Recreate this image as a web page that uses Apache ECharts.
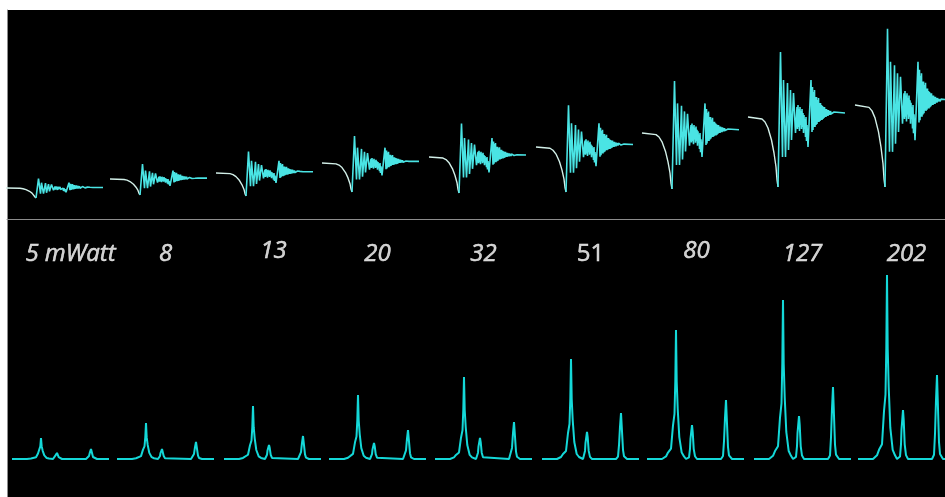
<!DOCTYPE html>
<html>
<head>
<meta charset="utf-8">
<script src="https://cdn.jsdelivr.net/npm/echarts@6/dist/echarts.min.js"></script>
<style>
  html, body { margin: 0; padding: 0; background: #fff; }
  #chart { width: 945px; height: 497px; }
</style>
</head>
<body>
<div id="chart"></div>
<script>
var powers = ["5 mWatt", "8", "13", "20", "32", "51", "80", "127", "202"];

// top panel: free induction decays, one per power level
var fidBase = [31, 40, 46, 56, 62, 72, 86, 102, 114];
var fidDepth = [10, 16, 23, 29, 36, 45, 56, 70, 82];
var fidAt = [29, 133, 239, 345, 452, 559, 665, 771, 878];

var fidRefDepth = 70;
var fidTime = [
  -30, -16, -13, -10, -6.5, -4, -2, -1, 0,
  2.5, 4.5, 5.5, 7.5, 9.5, 10.5, 12.5, 13.5, 15.5, 17.5,
  19, 19.5, 20, 20.5, 21, 21.5, 22, 22.5, 23, 23.5, 24, 24.5, 25, 25.5,
  26, 26.5, 27, 27.5, 28, 28.5, 29, 30,
  33, 34, 34.5, 35, 35.5, 36, 36.5, 37, 37.5, 38, 38.5, 39, 39.5, 40,
  40.5, 41, 41.5, 42, 42.5, 43, 43.5, 44, 44.5, 45, 45.5, 46, 46.5, 47,
  47.5, 48, 48.5, 49, 49.5, 50, 50.5, 51, 51.5, 52, 52.5, 53, 54, 55,
  56, 57, 58, 67
];
var fidSignal = [
  0, -2, -5, -11, -23, -36, -50, -63, -70,
  65, -40, 37, -40, 34, -33, 27, -23, 24, -16,
  10, -12, 12, -10, 8, -14, 10, -8, 6, -12, 8, -10, 4, -16,
  2, -12, -2, -20, 0, -24, -8, -30,
  37, -15, 30, -13, 25, -10, 27, -10, 20, -8, 20, -7, 17, -5,
  19, -5, 14, -4, 14, -3, 12, -3, 11, -2, 10, -1, 10, 0,
  8, 0, 8, 1, 7, 1, 7, 2, 6, 2, 6, 3, 5, 3,
  5, 4, 4.5, 4
];

// bottom panel: spectra
var specStart = [5, 110, 217, 322, 428, 535, 640, 747, 851];
var specWidth = 97;
var specBase = 38;
var peakShift = [29, 45, 79];
var mainPeak = [21, 36, 53, 64, 82, 100, 129, 159, 184];
var midPeak = [6, 10, 14, 16, 21, 27, 34, 43, 49];
var farPeak = [10, 17, 23, 29, 37, 46, 59, 72, 84];

// line shapes (offset, fraction of peak height)
var mainShape = [[-14, 0], [-10, 0.02], [-8, 0.05], [-5, 0.08], [-3, 0.26], [-1.5, 0.35],
  [-0.7, 0.6], [0, 1], [0.7, 0.6], [1.7, 0.39], [3.3, 0.17], [5.7, 0.05], [8, 0.02], [10, 0]];
var midShape = [[-4, 0], [-3, 0.05], [-2, 0.3], [-1.5, 0.6], [0, 1], [0.7, 0.8],
  [1.7, 0.3], [3, 0.08], [5, 0]];
var farShape = [[-5, 0], [-3, 0.05], [-2, 0.3], [-1, 0.7], [0, 1], [1, 0.6],
  [2, 0.2], [3, 0.06], [6, 0]];

var series = [];

powers.forEach(function (p, i) {
  var lead = [];
  var signal = [];
  var k = fidDepth[i] / fidRefDepth;
  fidTime.forEach(function (t, j) {
    var pt = [fidAt[i] + t, fidBase[i] + fidSignal[j] * k];
    if (t <= 0) lead.push(pt);
    if (t >= 0) signal.push(pt);
  });
  series.push({
    type: "line",
    xAxisIndex: 0,
    yAxisIndex: 0,
    data: lead,
    symbol: "none",
    silent: true,
    lineStyle: { color: "#d2efe8", width: 1.4 },
  });
  series.push({
    type: "line",
    xAxisIndex: 0,
    yAxisIndex: 0,
    data: signal,
    symbol: "none",
    silent: true,
    lineStyle: { color: "#4ae4e4", width: 1.6 },
  });

  var spec = [[specStart[i], specBase]];
  var peaks = [
    [peakShift[0], mainPeak[i], mainShape],
    [peakShift[1], midPeak[i], midShape],
    [peakShift[2], farPeak[i], farShape],
  ];
  peaks.forEach(function (pk) {
    pk[2].forEach(function (s) {
      spec.push([specStart[i] + pk[0] + s[0], specBase + pk[1] * s[1]]);
    });
  });
  spec.push([specStart[i] + specWidth, specBase]);
  series.push({
    type: "line",
    xAxisIndex: 1,
    yAxisIndex: 1,
    data: spec,
    symbol: "none",
    silent: true,
    lineStyle: { color: "#14d8d8", width: 2 },
  });
});

// power labels between the panels
var labelLevel = 243;
series.push({
  type: "scatter",
  xAxisIndex: 1,
  yAxisIndex: 1,
  symbolSize: 0,
  silent: true,
  data: powers.map(function (p, i) {
    var item = { name: p, value: [specStart[i] + specWidth / 2, labelLevel] };
    if (i === 0) item.label = { offset: [10, 0] };
    if (p === "13" || p === "80") item.label = { offset: [1, -3] };
    if (p === "51") item.label = { fontStyle: "normal" };
    return item;
  }),
  label: {
    show: true,
    position: "inside",
    formatter: "{b}",
    color: "#ffffff",
    fontSize: 24,
    fontStyle: "italic",
    fontFamily: "Open Sans",
    textBorderColor: "#ffffff",
    textBorderWidth: 0.5,
  },
});

var frame = { show: true, lineStyle: { color: "#8c8c8c", width: 1 } };

var options = {
  backgroundColor: "#fff",
  animation: false,
  grid: [
    {
      left: 7,
      right: 0,
      top: 10,
      height: 209,
      show: true,
      backgroundColor: "#000",
      borderWidth: 0,
    },
    {
      left: 7,
      right: 0,
      top: 219,
      height: 278,
      show: true,
      backgroundColor: "#000",
      borderWidth: 0,
    },
  ],
  xAxis: [
    {
      type: "value",
      gridIndex: 0,
      min: 0,
      max: 938,
      position: "top",
      axisLine: frame,
      axisTick: { show: false },
      axisLabel: { show: false },
      splitLine: { show: false },
    },
    {
      type: "value",
      gridIndex: 1,
      min: 0,
      max: 938,
      position: "top",
      axisLine: frame,
      axisTick: { show: false },
      axisLabel: { show: false },
      splitLine: { show: false },
    },
  ],
  yAxis: [
    {
      type: "value",
      gridIndex: 0,
      min: 0,
      max: 209,
      axisLine: frame,
      axisTick: { show: false },
      axisLabel: { show: false },
      splitLine: { show: false },
    },
    {
      type: "value",
      gridIndex: 1,
      min: 0,
      max: 278,
      axisLine: frame,
      axisTick: { show: false },
      axisLabel: { show: false },
      splitLine: { show: false },
    },
  ],
  series: series,
};

var chart = echarts.init(document.getElementById("chart"));
chart.setOption(options);
</script>
</body>
</html>
